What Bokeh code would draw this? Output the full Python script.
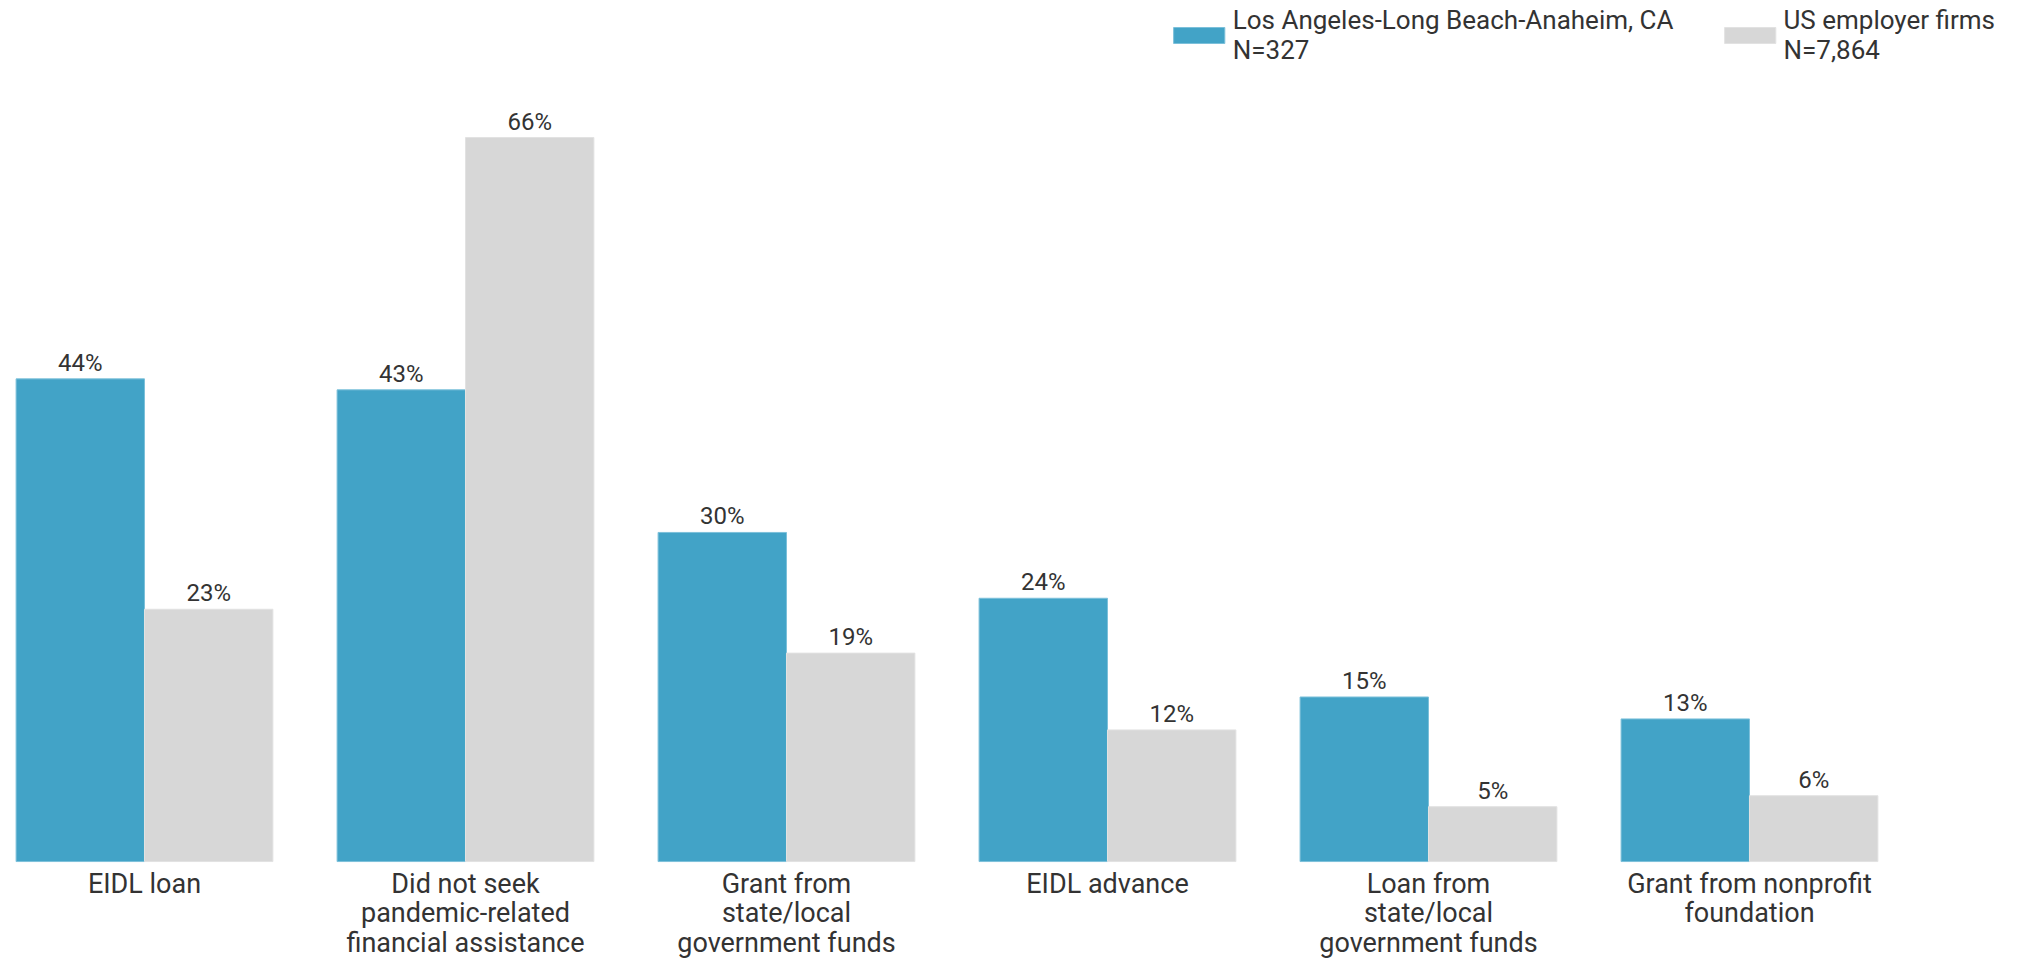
from bokeh.plotting import figure
from bokeh.models import Range1d, Legend, LegendItem, ColumnDataSource
from bokeh.core.properties import value
from bokeh.embed import file_html
from bokeh.resources import INLINE
import numpy as np

categories = ["EIDL loan",
              "Did not seek\npandemic-related\nfinancial assistance",
              "Grant from\nstate/local\ngovernment funds",
              "EIDL advance",
              "Loan from\nstate/local\ngovernment funds",
              "Grant from nonprofit\nfoundation"]
la_values = [44, 43, 30, 24, 15, 13]
us_values = [23, 66, 19, 12, 5, 6]
series_names = ["Los Angeles-Long Beach-Anaheim, CA\nN=327", "US employer firms\nN=7,864"]
colors = ["#42A3C7", "#D7D7D7"]

FONT = "Roboto"
TXT = "#333333"

idx = np.arange(len(categories))
p = figure(width=2020, height=960, output_backend="svg", toolbar_location=None,
           x_axis_location=None, y_axis_location=None,
           x_range=Range1d(-0.4486, 5.782), y_range=Range1d(-9.02, 78.49),
           min_border_left=0, min_border_right=20, min_border_top=0, min_border_bottom=0)
p.outline_line_color = None
p.grid.visible = False

src_la = ColumnDataSource(dict(x=idx - 0.2, top=la_values, lab=[f"{v}%" for v in la_values]))
src_us = ColumnDataSource(dict(x=idx + 0.2, top=us_values, lab=[f"{v}%" for v in us_values]))
src_cat = ColumnDataSource(dict(x=idx, y=np.zeros(len(categories)), text=categories))

r1 = p.vbar(x="x", top="top", bottom=0, width=0.4, source=src_la, fill_color=colors[0],
            line_color="#7CC0DA", line_width=1)
r2 = p.vbar(x="x", top="top", bottom=0, width=0.4, source=src_us, fill_color=colors[1],
            line_color="#E2E2E2", line_width=1)

for src in (src_la, src_us):
    p.text(x="x", y="top", text="lab", source=src, text_align="center", text_baseline="alphabetic",
           y_offset=-16, text_font=value(FONT), text_font_size="24px", text_color=TXT)

# category labels under the bars
p.text(x="x", y="y", text="text", source=src_cat, text_align="center", text_baseline="top",
       y_offset=6, text_font=value(FONT), text_font_size="27px", text_color=TXT,
       text_line_height=0.93)

legend = Legend(items=[LegendItem(label=series_names[0], renderers=[r1]),
                       LegendItem(label=series_names[1], renderers=[r2])],
                orientation="horizontal", location="top_right",
                label_text_font=FONT, label_text_font_size="26px", label_text_color=TXT,
                label_text_line_height=1.0,
                glyph_width=64, glyph_height=20, label_standoff=2, spacing=44,
                padding=0, margin=5, border_line_color=None, background_fill_alpha=0)
p.add_layout(legend)

open("out.html", "w").write(file_html(p, INLINE))
